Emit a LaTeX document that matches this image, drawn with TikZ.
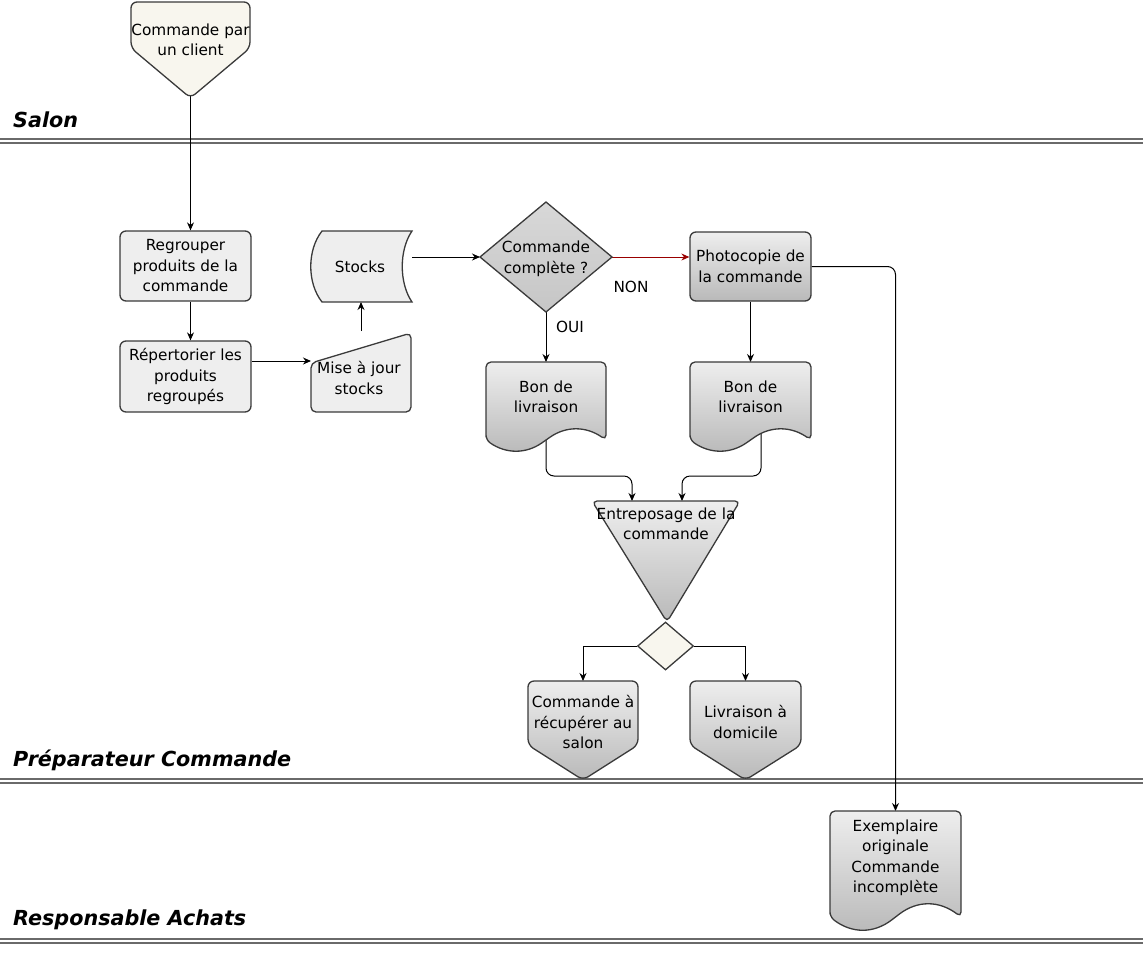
\documentclass[tikz,border=0pt]{standalone}
\usepackage{fontspec}
\setmainfont{DejaVu Sans}
\usetikzlibrary{arrows.meta,shapes.geometric,calc}
\pgfdeclarelayer{bg}
\pgfsetlayers{bg,main}
\definecolor{cream}{HTML}{F8F6EE}
\definecolor{lgray}{HTML}{EEEEEE}
\definecolor{gtop}{HTML}{EEEEEE}
\definecolor{gbot}{HTML}{B9B9B9}
\definecolor{dtop}{HTML}{D8D8D8}
\definecolor{dbot}{HTML}{C6C6C6}
\definecolor{bord}{HTML}{3A3A3A}
\definecolor{lanec}{HTML}{6A6A6A}
\definecolor{nonred}{HTML}{990000}
\newcommand\mydoc[6]{%
  \path[#1, rounded corners=5pt] (#2,#5) -- (#2,#3) -- (#4,#3) -- (#4,#5)
   .. controls ({#4-(#4-#2)/6},{#5-4*#6/3}) and ({(#2+#4)/2+(#4-#2)/6},{#5-4*#6/3}) .. ({(#2+#4)/2},#5)
   .. controls ({(#2+#4)/2-(#4-#2)/6},{#5+4*#6/3}) and ({#2+(#4-#2)/6},{#5+4*#6/3}) .. (#2,#5) -- cycle;}
\begin{document}
\begin{tikzpicture}[x=1pt,y=-1pt,
  shp/.style={draw=bord, line width=1.3pt},
  flat/.style={shp, fill=lgray},
  grad/.style={shp, top color=gtop, bottom color=gbot},
  anchorbox/.style={inner sep=0pt, outer sep=0pt, draw=none},
  txt/.style={font=\fontsize{15.3}{20.5}\selectfont, align=center, inner sep=0pt},
  lanelbl/.style={font=\fontsize{20.7}{24}\selectfont\bfseries\itshape, anchor=base west, inner sep=0pt},
  arr/.style={draw=black, line width=1pt, -{Stealth[length=8pt,width=7pt]}},
  laneline/.style={draw=lanec, line width=1.3pt}
]
\useasboundingbox (0,0) rectangle (1143,962);

% client
\path[shp, fill=cream, rounded corners=6pt] (131,2) -- (250,2) -- (250,48) -- (190.5,98) -- (131,48) -- cycle;
\node[anchorbox, minimum width=119pt, minimum height=96pt] (client) at (190.5,50) {};
\node[txt] (tclient) at (190.5,40) {Commande par\\un client};

% Regrouper / Repertorier
\node[flat, rounded corners=6pt, minimum width=131pt, minimum height=70pt, txt] (regroup) at (185.5,266) {Regrouper\\produits de la\\commande};
\node[flat, rounded corners=6pt, minimum width=131pt, minimum height=71pt, txt] (repert) at (185.5,376.5) {Répertorier les\\produits\\regroupés};

% Stocks
\path[flat] (322,231) -- (412,231) .. controls (399,250) and (399,283) .. (412,302) -- (322,302) .. controls (307,283) and (307,250) .. (322,231) -- cycle;
\node[anchorbox, minimum width=101pt, minimum height=71pt] (stocks) at (361.5,266.5) {};
\node[txt] (tstocks) at (360,267) {Stocks};

% Mise a jour
\path[flat, rounded corners=5pt] (311,363) -- (411,333) -- (411,412) -- (311,412) -- cycle;
\node[anchorbox, minimum width=100pt, minimum height=79pt] (mise) at (361,372.5) {};
\node[txt] (tmise) at (359,378) {Mise à jour\\stocks};

% decision
\path[shp, top color=dtop, bottom color=dbot] (480,257) -- (546,202) -- (612,257) -- (546,312) -- cycle;
\node[anchorbox, minimum width=132pt, minimum height=110pt] (dec) at (546,257) {};
\node[txt] (tdec) at (546,259) {Commande\\complète ?};

% Photocopie
\node[grad, rounded corners=6pt, minimum width=121pt, minimum height=69pt, txt] (photo) at (750.5,266.5) {Photocopie de\\la commande};

% Bons de livraison
\mydoc{grad}{486}{362}{606}{440}{10.5}
\node[anchorbox, minimum width=120pt, minimum height=78pt] (bon1) at (546,401) {};
\node[txt] (tbon1) at (546,397) {Bon de\\livraison};
\mydoc{grad}{690}{362}{811}{440}{10.5}
\node[anchorbox, minimum width=121pt, minimum height=78pt] (bon2) at (750.5,401) {};
\node[txt] (tbon2) at (750.5,397) {Bon de\\livraison};

% Entreposage
\path[grad, rounded corners=5pt] (592,501) -- (740,501) -- (667,622) -- cycle;
\node[anchorbox, minimum width=148pt, minimum height=121pt] (entre) at (666,561.5) {};
\node[txt] (tentre) at (666,524) {Entreposage de la\\commande};

% small diamond
\node[diamond, shp, fill=cream, inner sep=0pt, minimum width=56pt, minimum height=48pt] (sd) at (665.5,646) {};

% outputs
\path[grad, rounded corners=6pt] (528,681) -- (638,681) -- (638,745) -- (583,780) -- (528,745) -- cycle;
\node[anchorbox, minimum width=110pt, minimum height=99pt] (recup) at (583,730.5) {};
\node[txt] (trecup) at (583,722) {Commande à\\récupérer au\\salon};
\path[grad, rounded corners=6pt] (690,681) -- (801,681) -- (801,745) -- (745.5,780) -- (690,745) -- cycle;
\node[anchorbox, minimum width=111pt, minimum height=99pt] (livr) at (745.5,730.5) {};
\node[txt] (tlivr) at (745.5,722) {Livraison à\\domicile};

% Exemplaire
\mydoc{grad}{830}{811}{961}{917}{12.5}
\node[anchorbox, minimum width=131pt, minimum height=106pt] (exemp) at (895.5,864) {};
\node[txt] (texemp) at (895.5,858) {Exemplaire\\originale\\Commande\\incomplète};

% labels
\node[txt] (non) at (631,287) {NON};
\node[txt] (oui) at (570,327) {OUI};
\node[lanelbl] (lsalon) at (13,127) {Salon};
\node[lanelbl] (lprep) at (13,766) {Préparateur Commande};
\node[lanelbl] (lresp) at (13,925) {Responsable Achats};

\begin{pgfonlayer}{bg}
\foreach \yy in {139,143,779,783,939,943} \draw[laneline] (0,\yy) -- (1143,\yy);
\draw[arr] ([yshift=4pt]client.south) -- (client.south |- regroup.north);
\draw[arr] (client.south |- regroup.south) -- (client.south |- repert.north);
\draw[arr] ([yshift=15.5pt]repert.east) -- ([yshift=15.5pt]repert.east -| mise.west);
\draw[arr] ([yshift=2pt]mise.north) -- (mise.north |- stocks.south);
\draw[arr] (stocks.east |- dec.west) -- (dec.west);
\draw[arr, draw=nonred] (dec.east) -- (dec.east -| photo.west);
\draw[arr] (dec.south) -- (bon1.north);
\draw[arr] (photo.south) -- (bon2.north);
\draw[arr, rounded corners=8pt] ([yshift=5pt]bon1.south) |- ([xshift=-34pt,yshift=25pt]entre.north) -- ([xshift=-34pt]entre.north);
\draw[arr, rounded corners=8pt] ([xshift=10.5pt,yshift=10pt]bon2.south) |- ([xshift=16pt,yshift=25pt]entre.north) -- ([xshift=16pt]entre.north);
\draw[arr] (sd.west) -| (recup.north);
\draw[arr] (sd.east) -| (livr.north);
\draw[arr, rounded corners=8pt] (photo.east) -| (exemp.north);
\end{pgfonlayer}
\end{tikzpicture}
\end{document}
